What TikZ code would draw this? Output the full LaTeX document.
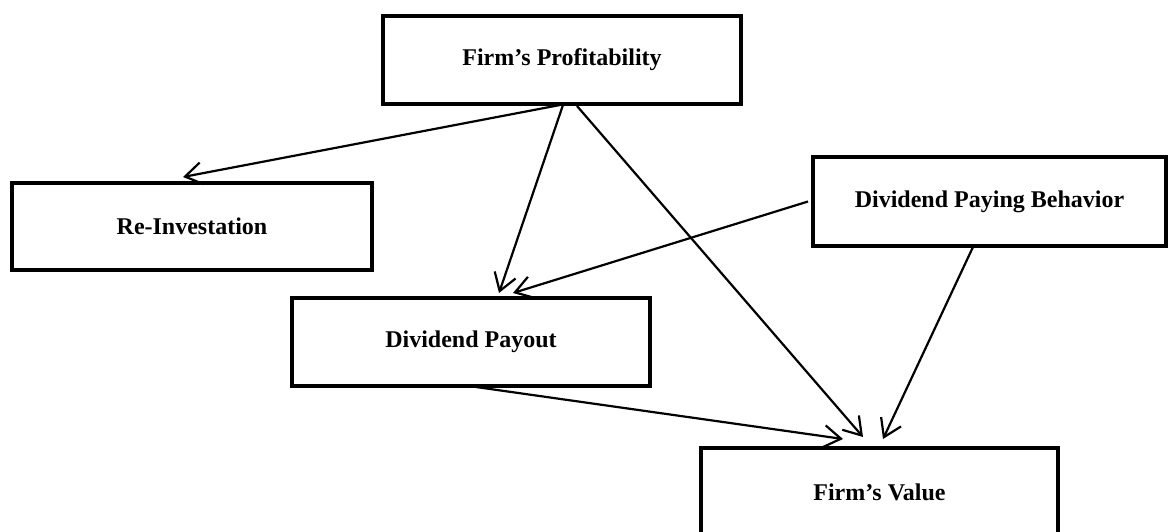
\documentclass[tikz,border=0pt]{standalone}
\usepackage{fontspec}
\setmainfont{Liberation Serif}
\usetikzlibrary{arrows.meta}

\tikzset{
  box/.style={draw, line width=4pt, rectangle, outer sep=0pt, inner sep=0pt,
    font=\fontsize{24}{28}\selectfont\bfseries},
  arr/.style={line width=2.2pt, -{Straight Barb[length=17pt,width=22pt,line width=2.2pt]}}
}

\begin{document}
\begin{tikzpicture}[x=1pt,y=-1pt]
  \useasboundingbox (0,0) rectangle (1168,532);

  % boxes
  \node[box, minimum width=358pt, minimum height=88pt] (prof) at (562,60) {Firm’s Profitability};
  \node[box, minimum width=360pt, minimum height=87pt] (reinv) at (192,226.5) {Re-Investation};
  \node[box, minimum width=353pt, minimum height=89pt] (dpb) at (989.5,201.5) {Dividend Paying Behavior};
  \node[box, minimum width=358pt, minimum height=88pt] (dp) at (471,342) {Dividend Payout};
  \node[box, minimum width=357pt, minimum height=88pt] (fv) at (879.5,492) {Firm’s Value};

  % connectors
  \draw[arr] ([xshift=-2pt,yshift=-1pt]prof.south) -- ([xshift=-9pt,yshift=6pt]reinv.north);
  \draw[arr] ([xshift=1pt,yshift=-1pt]prof.south) -- ([xshift=28pt,yshift=5pt]dp.north);
  \draw[arr] ([xshift=15pt,yshift=-2pt]prof.south) -- ([xshift=-16.5pt,yshift=11pt]fv.north);
  \draw[arr] ([xshift=-5pt]dpb.west) -- ([xshift=42pt,yshift=5pt]dp.north);
  \draw[arr] ([xshift=-16.5pt,yshift=-1pt]dpb.south) -- ([xshift=3.5pt,yshift=9pt]fv.north);
  \draw[arr] ([xshift=5pt,yshift=-1pt]dp.south) -- ([xshift=-36.5pt,yshift=9pt]fv.north);
\end{tikzpicture}
\end{document}
